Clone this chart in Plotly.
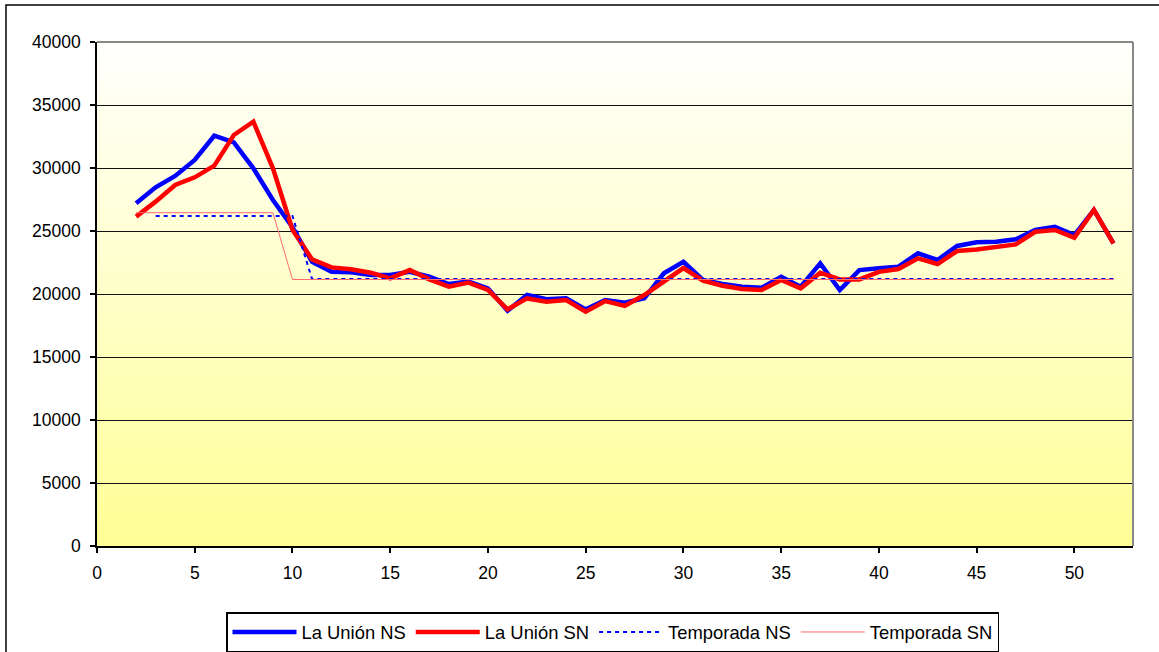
import plotly.graph_objects as go

weeks = list(range(2, 53))
la_union_ns = [27200, 28470, 29370, 30640, 32560, 32040, 29970, 27460, 25300, 22560,
               21770, 21720, 21510, 21510, 21770, 21370, 20790, 20980, 20450, 18670,
               19920, 19580, 19660, 18780, 19520, 19310, 19660, 21640, 22560, 21110,
               20790, 20580, 20500, 21370, 20580, 22430, 20320, 21900, 22040, 22170,
               23230, 22700, 23810, 24100, 24150, 24340, 25080, 25340, 24680, 26670, 24020]
la_union_sn = [26140, 27330, 28650, 29260, 30190, 32620, 33680, 29970, 25100, 22750,
               22110, 21960, 21690, 21240, 21900, 21160, 20580, 20900, 20320, 18780,
               19650, 19390, 19520, 18600, 19440, 19050, 19920, 20980, 22060, 21060,
               20660, 20400, 20320, 21110, 20450, 21690, 21160, 21160, 21760, 21980,
               22830, 22380, 23410, 23540, 23750, 23940, 24940, 25080, 24470, 26670, 24020]
weeks_temp_ns = list(range(3, 53))
temporada_ns = [26190, 26190, 26190, 26190, 26190, 26190, 26190, 26190,
                21200, 21200, 21200, 21200, 21200, 21200, 21200, 21200, 21200, 21200,
                21200, 21200, 21200, 21200, 21200, 21200, 21200, 21200, 21200, 21200,
                21200, 21200, 21200, 21200, 21200, 21200, 21200, 21200, 21200, 21200,
                21200, 21200, 21200, 21200, 21200, 21200, 21200, 21200, 21200, 21200,
                21200, 21200]
weeks_temp_sn = list(range(2, 53))
temporada_sn = [26450, 26450, 26450, 26450, 26450, 26450, 26450, 26450,
                21150, 21150, 21150, 21150, 21150, 21150, 21150, 21150, 21150, 21150,
                21150, 21150, 21150, 21150, 21150, 21150, 21150, 21150, 21150, 21150,
                21150, 21150, 21150, 21150, 21150, 21150, 21150, 21150, 21150, 21150,
                21150, 21150, 21150, 21150, 21150, 21150, 21150, 21150, 21150, 21150,
                21150, 21150, 21150]
x_ticks = [0, 5, 10, 15, 20, 25, 30, 35, 40, 45, 50]
y_ticks = [0, 5000, 10000, 15000, 20000, 25000, 30000, 35000, 40000]

FONT = "Arial, Liberation Sans, sans-serif"

fig = go.Figure()
fig.add_trace(go.Scatter(x=weeks, y=la_union_ns, mode="lines", name="La Unión NS",
                         line=dict(color="#0000FF", width=4.5)))
fig.add_trace(go.Scatter(x=weeks, y=la_union_sn, mode="lines", name="La Unión SN",
                         line=dict(color="#FF0000", width=4.5)))
fig.add_trace(go.Scatter(x=weeks_temp_ns, y=temporada_ns, mode="lines", name="Temporada NS",
                         line=dict(color="#0000FF", width=2, dash="4px,4px")))
fig.add_trace(go.Scatter(x=weeks_temp_sn, y=temporada_sn, mode="lines", name="Temporada SN",
                         line=dict(color="#FF6A6A", width=1)))

L, R, T, B = 97, 26, 42, 106
W, H = 1159, 652
pw, ph = W - L - R, H - T - B
def px(xp):
    return (xp - L) / pw
def py(yp):
    return (H - B - yp) / ph

# gradient plot background (white at top to pale yellow at bottom)
n = 80
shapes = []
for i in range(n):
    f = i / (n - 1)
    b = int(round(252 - (252 - 150) * (1 - f)))
    shapes.append(dict(type="rect", xref="x domain", yref="y domain",
                       x0=0, x1=1, y0=i / n, y1=(i + 1) / n + 0.002,
                       fillcolor=f"rgb(255,255,{b})", line=dict(width=0), layer="below"))
# plot-area border (grey top and right)
shapes.append(dict(type="line", xref="x domain", yref="y domain", x0=0, x1=1, y0=1, y1=1,
                   line=dict(color="#888888", width=2), layer="above"))
shapes.append(dict(type="line", xref="x domain", yref="y domain", x0=1, x1=1, y0=0, y1=1,
                   line=dict(color="#888888", width=2), layer="above"))
# outer chart border
shapes.append(dict(type="rect", xref="paper", yref="paper",
                   x0=px(6), x1=px(1175), y0=py(680), y1=py(5),
                   line=dict(color="black", width=1.5), fillcolor="rgba(0,0,0,0)", layer="above"))

fig.update_layout(
    width=W, height=H,
    margin=dict(l=L, r=R, t=T, b=B, autoexpand=False),
    paper_bgcolor="white",
    plot_bgcolor="rgba(0,0,0,0)",
    font=dict(family=FONT, size=17.5, color="black"),
    shapes=shapes,
    showlegend=True,
    legend=dict(orientation="h", x=px(226), xanchor="left", y=py(612), yanchor="top",
                bordercolor="black", borderwidth=1.5, bgcolor="white",
                font=dict(family=FONT, size=18.4), itemwidth=64,
                tracegroupgap=0),
    xaxis=dict(range=[0, 53], tickvals=x_ticks, ticktext=[str(v) for v in x_ticks],
               showgrid=False, zeroline=False, showline=True, linecolor="black", linewidth=1.5,
               ticks="outside", ticklen=5, tickcolor="black", tickwidth=1.5,
               ticklabelstandoff=5, tickfont=dict(size=17.5)),
    yaxis=dict(range=[0, 40000], tickvals=y_ticks, ticktext=[str(v) for v in y_ticks],
               showgrid=True, gridcolor="#111111", gridwidth=1.3, zeroline=False,
               showline=True, linecolor="black", linewidth=1.5,
               ticks="outside", ticklen=5, tickcolor="black", tickwidth=1.5,
               ticklabelstandoff=6, tickfont=dict(size=17.5)),
)

fig.write_html("out.html", post_script="document.body.style.margin='0';",
               config={"displayModeBar": False})
